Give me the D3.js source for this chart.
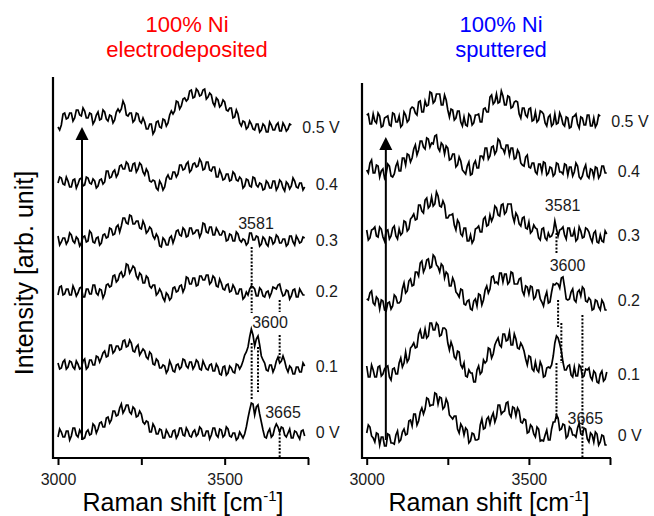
<!DOCTYPE html>
<html><head><meta charset="utf-8">
<script src="https://cdn.jsdelivr.net/npm/d3@7"></script>
<style>
body{margin:0;background:#fff}
svg{display:block}
text{font-family:"Liberation Sans",Arial,Helvetica,sans-serif}
</style>
</head><body>
<svg id="c" width="654" height="516"></svg>
<script>
// ---------------- DATA ----------------
const shiftCm = [3000,3005,3010,3015,3020,3025,3030,3035,3040,3045,3050,3055,3060,3065,3070,3075,3080,3085,3090,3095,
3100,3105,3110,3115,3120,3125,3130,3135,3140,3145,3150,3155,3160,3165,3170,3175,3180,3185,3190,3195,
3200,3205,3210,3215,3220,3225,3230,3235,3240,3245,3250,3255,3260,3265,3270,3275,3280,3285,3290,3295,
3300,3305,3310,3315,3320,3325,3330,3335,3340,3345,3350,3355,3360,3365,3370,3375,3380,3385,3390,3395,
3400,3405,3410,3415,3420,3425,3430,3435,3440,3445,3450,3455,3460,3465,3470,3475,3480,3485,3490,3495,
3500,3505,3510,3515,3520,3525,3530,3535,3540,3545,3550,3555,3560,3565,3570,3575,3580,3585,3590,3595,
3600,3605,3610,3615,3620,3625,3630,3635,3640,3645,3650,3655,3660,3665,3670,3675,3680,3685,3690,3695,
3700,3705,3710,3715,3720,3725,3730,3735,3740];

const voltageLabels = ["0.5 V","0.4","0.3","0.2","0.1","0 V"];
const xTicks = [3000,3250,3500,3750];
const xTickLabels = ["3000","","3500",""];

// electrodeposited: intensity above each trace's own baseline (arb. unit)
const electro05 = [1,-2,3,14,15,9,10,15,15,7,10,18,18,13,12,20,17,10,10,15,14,4,7,13,16,8,9,18,16,9,7,13,12,5,8,16,19,16,19,27,23,13,12,15,15,6,8,15,14,7,5,10,6,-1,-1,4,4,-6,-3,6,7,1,0,9,8,2,5,13,17,14,17,27,26,19,22,29,30,27,29,37,38,30,31,39,37,32,33,38,39,29,31,35,33,25,22,30,28,21,23,28,26,18,17,20,20,10,11,18,14,5,2,7,6,-1,1,7,4,-1,-2,4,4,-4,-2,4,2,-4,-4,6,3,-2,-2,3,5,-3,-3,5,2,-3,-1,4,3];
const electro04 = [0,6,5,-1,-2,6,2,-4,-4,3,4,-5,-1,4,5,-3,-2,6,5,0,-1,4,2,-5,-3,3,4,-1,1,12,12,5,6,11,13,6,9,17,18,14,14,21,19,12,12,19,20,11,14,20,18,11,8,14,11,2,1,3,2,-5,-7,2,-1,-7,-4,5,8,4,4,11,11,6,9,18,18,13,14,19,21,11,13,19,20,16,17,24,21,13,14,21,21,13,12,16,16,6,6,13,9,3,4,9,9,2,3,11,9,3,2,6,4,-5,-3,4,3,-3,-4,6,5,-2,-4,0,-1,-7,-6,2,0,-5,-5,2,2,-7,-4,3,1,-5,-8,1,-1,-6,-3,5,2,-4,-5,0,0,-7,-4];
const electro03 = [4,-5,-2,2,2,-4,-1,7,5,-1,-3,3,1,-6,-3,3,4,-2,-1,9,7,-2,-3,2,3,-5,-3,5,6,2,3,12,11,5,6,13,15,8,14,22,22,17,16,25,24,16,16,19,19,12,11,19,15,7,9,13,11,4,1,6,3,-6,-7,2,0,-5,-5,2,4,-3,2,9,10,5,4,12,10,3,4,12,12,6,7,10,10,3,7,17,16,8,7,13,13,5,5,12,9,5,5,9,8,-1,0,6,5,-1,-1,8,6,0,-2,1,0,-5,-3,7,7,0,0,4,3,-6,-4,3,1,-4,-6,3,2,-4,-2,5,3,-3,-3,1,1,-6,-4,4,4,-2,-5,4,1,-3,-2,3,2];
const electro02 = [-3,5,6,-3,-2,3,3,-3,-3,6,2,-4,-1,4,5,-5,-5,3,3,-2,-2,7,7,-1,-3,3,2,-6,-2,7,8,5,6,16,17,10,12,18,20,15,17,28,27,19,22,26,24,16,13,19,17,9,9,16,14,6,4,7,7,-3,-1,3,0,-6,-9,-1,-3,-8,-6,4,5,0,1,6,7,0,4,15,14,8,8,14,14,6,7,16,16,12,12,17,17,8,10,16,14,6,5,13,9,3,2,7,8,0,1,7,4,-2,-2,3,3,-7,-5,0,-3,3,6,5,3,-4,-4,4,2,-4,-5,0,1,-5,-1,5,4,3,7,8,1,-4,-3,2,1,-7,-4,2,3,-5,-5,3,0,-3,-3];
const electro01 = [2,-4,-3,3,5,-4,-2,4,3,-2,-4,4,1,-4,-3,4,6,-4,-2,5,5,0,0,9,8,3,7,12,14,8,9,20,20,12,14,19,19,15,16,24,25,18,19,25,22,14,13,18,20,10,13,16,14,8,6,13,11,1,0,6,4,-3,-3,0,-1,-8,-5,4,0,-6,-7,0,1,-4,-2,6,5,-1,-3,3,3,-4,-1,5,3,-4,-5,4,0,-4,-5,0,1,-6,-6,1,-2,-9,-10,-2,-1,-10,-8,-1,-3,-7,-8,1,0,-4,-1,4,10,13,18,28,36,30,19,26,29,20,9,5,2,-5,-6,0,0,-7,-3,4,8,2,4,9,4,-3,-7,-1,-3,-9,-9,-2,-2,-7,-7,2,-1];
const electro00 = [-3,5,2,-3,-3,3,3,-6,-2,6,6,-1,-3,4,1,-5,-4,2,4,-1,0,10,8,1,5,11,12,7,7,16,17,11,14,23,23,18,19,26,30,21,24,29,29,22,20,27,25,17,18,23,20,12,10,13,12,2,2,10,7,0,0,5,4,-4,-4,4,1,-3,-3,3,4,-4,-1,6,6,-1,-2,6,3,-2,-3,2,4,-2,0,7,5,-2,-2,3,3,-5,-1,6,6,-1,-3,5,4,-3,-1,7,5,-2,-3,1,1,-6,-4,2,-1,-4,0,7,16,24,31,30,19,27,29,20,12,4,-3,-4,2,5,-3,-1,6,10,7,2,7,6,-1,-3,1,5,-4,-4,3,2,-2,-5,3,4,-2];
const electroOffsets = [330,275,218,166,93,24];

// sputtered
const sputter05 = [6,7,-3,-3,7,0,-2,8,5,-6,-5,3,4,5,-4,-5,8,7,-1,-1,5,-6,-4,9,6,-1,1,12,14,13,8,6,19,20,9,9,20,15,16,29,28,18,20,27,27,27,16,16,26,21,11,4,12,11,1,3,10,10,-1,-5,4,-4,-5,7,5,-4,-2,6,6,7,-1,-1,12,13,9,9,24,26,17,19,27,18,19,30,25,16,16,25,24,13,14,19,20,19,7,3,13,13,6,4,12,13,0,1,9,-1,1,10,9,7,-2,-5,4,6,-5,-3,7,-3,-2,8,4,-3,-5,4,3,-7,-6,4,5,7,-3,-7,4,3,-4,-4,6,6,-5,-5,3,-6,-3,6,5];
const sputter04 = [0,-3,7,10,-3,-3,5,4,-7,-1,1,-8,-4,6,4,-6,-7,-4,4,8,-1,-1,12,12,5,16,15,8,12,21,25,15,20,29,29,23,21,32,31,23,27,26,34,35,22,19,27,25,16,24,22,10,11,16,16,3,5,13,9,0,-2,-4,4,8,-5,-4,6,9,2,2,14,14,11,22,22,11,14,23,24,16,19,31,29,22,21,17,25,25,15,22,22,11,12,20,17,7,5,4,13,15,3,2,7,7,-2,-4,6,6,-2,8,7,-5,-3,3,2,-6,-4,7,6,-2,-2,-4,6,5,-5,3,3,-6,-2,7,4,-7,-9,-6,1,5,-6,-8,1,0,-7,3,2,-8,-5,4,4,-3,-3];
const sputter03 = [5,-5,-3,5,6,8,-1,-2,8,6,-2,-6,4,5,-4,-1,7,9,-1,-4,6,0,2,14,13,4,6,16,18,21,15,16,30,30,24,22,35,37,27,29,38,29,31,43,39,29,28,34,30,17,17,20,20,21,10,5,15,12,1,-1,7,7,-6,-6,0,-8,-5,6,7,9,3,3,16,18,9,10,20,14,18,29,27,20,19,30,31,21,23,31,31,31,19,13,22,19,11,9,17,18,7,6,13,2,4,10,7,6,-3,-5,6,7,-3,-5,2,-2,-1,3,14,6,-1,5,6,8,0,-4,7,7,-1,-1,5,-6,-4,8,4,-3,-2,7,6,3,-3,-7,2,4,-7,-8,0,-6,-7,4,1];
const sputter02 = [1,0,7,9,-3,-5,3,1,-9,0,-1,-10,-11,-3,-2,-9,-6,5,3,-3,-3,-1,11,17,7,9,19,21,14,15,28,28,24,37,39,28,32,40,41,32,33,45,43,35,33,28,36,34,22,28,26,14,14,22,18,8,6,3,11,10,-4,-5,-1,0,-9,-10,-1,1,-6,6,5,-5,0,10,14,7,11,23,24,17,18,16,27,27,18,26,26,16,18,28,27,16,16,16,21,22,9,5,14,13,6,14,13,1,3,10,10,1,-2,-6,3,8,-3,-2,8,16,15,17,16,12,22,23,13,1,0,1,8,11,0,-2,8,10,4,13,11,-1,-2,2,0,-10,-9,0,-1,-7,-10,0,-3,-10,-10];
const sputter01 = [6,-5,-5,7,2,-5,-5,5,6,-4,-2,3,5,6,-5,-8,3,4,-2,-2,9,14,5,9,20,10,13,24,26,29,24,25,38,42,34,34,43,34,36,49,49,42,42,49,47,36,37,44,44,42,29,22,30,25,15,13,21,20,7,4,9,-4,-5,2,-1,-1,-10,-10,2,6,-2,0,12,9,11,24,23,14,18,27,31,34,27,25,38,38,31,32,40,27,27,38,33,24,23,29,26,21,13,7,16,15,3,1,10,2,0,10,6,-5,-4,4,5,4,7,16,29,36,34,28,21,10,2,2,6,7,-3,-5,5,-4,-4,7,5,-5,-4,3,2,4,-5,-8,1,-1,-10,-11,-2,1,-9,-7,0];
const sputter00 = [3,11,9,0,-2,-6,3,2,-9,-1,-1,-10,-10,2,1,-7,-7,-8,1,5,-6,-4,4,7,1,2,15,16,10,22,22,11,15,24,28,22,27,38,37,30,31,31,43,42,32,39,38,27,29,37,33,21,19,17,20,20,7,3,12,9,1,8,6,-7,-5,3,2,-4,-4,-3,11,17,7,8,17,19,12,19,23,14,19,31,31,22,24,25,33,34,22,19,29,28,20,28,25,14,13,17,16,3,4,11,9,2,-1,9,7,-5,-4,-5,1,6,-4,-4,7,14,14,21,18,6,7,12,11,-2,0,9,7,1,1,-1,8,13,2,1,8,7,-3,-6,3,1,-6,4,2,-9,-6,1,0,-9,-9];
const sputterOffsets = [337,288,223,158,86,22];

// peak annotations (cm-1, intensity on the stacked axis)
const electroPeakLabels = [{t:"3581",cm:3594,v:235},{t:"3600",cm:3636,v:136},{t:"3665",cm:3675,v:46}];
const sputterPeakLabels = [{t:"3581",cm:3604,v:253},{t:"3600",cm:3619,v:193},{t:"3665",cm:3674,v:40}];
// dotted guide segments [cm, from, to]
const electroGuides = [[3581,211,145],[3581,115,58],[3600,111,66],[3665,158,146],[3665,123,98],[3665,28,0]];
const sputterGuides = [[3585,225,205],[3590,158,131],[3585,95,38],[3600,135,95],[3665,143,0]];
// arrows [cm, from, to]
const electroArrow = [3072,18,331];
const sputterArrow = [3059,18,321];

// ---------------- DRAW ----------------
const svg = d3.select("#c");
const y = d3.scaleLinear().domain([0,380]).range([458,78]);

const panels = [
  {x:d3.scaleLinear().domain([3000,3750]).range([58,308]), frameLeft:53, frameTop:77,
   traces:[electro05,electro04,electro03,electro02,electro01,electro00], offsets:electroOffsets,
   peaks:electroPeakLabels, guides:electroGuides, arrow:electroArrow,
   title:["100% Ni","electrodeposited"], color:"#ff0000", cx:187, xlabelX:183},
  {x:d3.scaleLinear().domain([3000,3750]).range([366.7,610]), frameLeft:362, frameTop:83,
   traces:[sputter05,sputter04,sputter03,sputter02,sputter01,sputter00], offsets:sputterOffsets,
   peaks:sputterPeakLabels, guides:sputterGuides, arrow:sputterArrow,
   title:["100% Ni","sputtered"], color:"#0000ff", cx:501, xlabelX:489}
];

panels.forEach(p => {
  const g = svg.append("g");
  const x = p.x;
  g.append("text").attr("x",p.cx).attr("y",32).attr("text-anchor","middle")
    .attr("font-size",22).attr("fill",p.color).text(p.title[0]);
  g.append("text").attr("x",p.cx).attr("y",57).attr("text-anchor","middle")
    .attr("font-size",22).attr("fill",p.color).text(p.title[1]);

  const line = d3.line().x(d=>x(d[0])).y(d=>d[1]);
  p.traces.forEach((vals,k) => {
    const off = p.offsets[k];
    const pts = vals.map((v,i) => [shiftCm[i], y(off + v)]);
    g.append("path").attr("d", line(pts)).attr("fill","none")
      .attr("stroke","#000").attr("stroke-width",1.7).attr("stroke-linejoin","miter")
      .attr("stroke-miterlimit",10);
    const n = vals.length;
    const lvl = d3.mean(vals.slice(n-20));
    g.append("text").attr("x", x(shiftCm[n-1]) + 11).attr("y", y(off + lvl))
      .attr("dominant-baseline","central").attr("font-size",16).attr("fill","#1a1a1a")
      .text(voltageLabels[k]);
  });

  p.guides.forEach(gd => {
    g.append("line").attr("x1",x(gd[0])).attr("x2",x(gd[0]))
      .attr("y1",y(gd[1])).attr("y2",y(gd[2]))
      .attr("stroke","#000").attr("stroke-width",2).attr("stroke-dasharray","2,1.6");
  });
  p.peaks.forEach(pk => {
    g.append("text").attr("x",x(pk.cm)).attr("y",y(pk.v)).attr("text-anchor","middle")
      .attr("dominant-baseline","central").attr("font-size",16).attr("fill","#1a1a1a").text(pk.t);
  });

  const ax = x(p.arrow[0]), ay0 = y(p.arrow[1]), ay1 = y(p.arrow[2]);
  g.append("line").attr("x1",ax).attr("x2",ax).attr("y1",ay0).attr("y2",ay1+10)
    .attr("stroke","#000").attr("stroke-width",2);
  g.append("path").attr("d",`M${ax},${ay1}L${ax-6.5},${ay1+13}L${ax+6.5},${ay1+13}Z`).attr("fill","#000");

  const x1 = x.range()[1];
  g.append("line").attr("x1",p.frameLeft).attr("x2",p.frameLeft).attr("y1",p.frameTop).attr("y2",y(0)+1)
    .attr("stroke","#000").attr("stroke-width",2.2);
  g.append("line").attr("x1",p.frameLeft-1).attr("x2",x1+1).attr("y1",y(0)).attr("y2",y(0))
    .attr("stroke","#000").attr("stroke-width",2.2);

  const axis = d3.axisBottom(x).tickValues(xTicks).tickSize(7).tickSizeOuter(0)
    .tickFormat((d,i)=>xTickLabels[i]);
  const ag = g.append("g").attr("transform",`translate(0,${y(0)})`).call(axis);
  ag.select(".domain").remove();
  ag.selectAll(".tick line").attr("stroke","#000").attr("stroke-width",2);
  ag.selectAll(".tick text").attr("font-size",16).attr("fill","#1a1a1a").attr("dy","1.05em")
    .style("font-family",'"Liberation Sans",Arial,sans-serif');

  const xl = g.append("text").attr("x",p.xlabelX).attr("y",511).attr("text-anchor","middle")
    .attr("font-size",25).attr("fill","#000");
  xl.append("tspan").text("Raman shift [cm");
  xl.append("tspan").attr("font-size",15).attr("dy",-10).text("-1");
  xl.append("tspan").attr("dy",10).text("]");
});

svg.append("text").attr("transform","translate(33,273) rotate(-90)").attr("text-anchor","middle")
  .attr("font-size",25).attr("fill","#000").text("Intensity [arb. unit]");
</script>
</body></html>
